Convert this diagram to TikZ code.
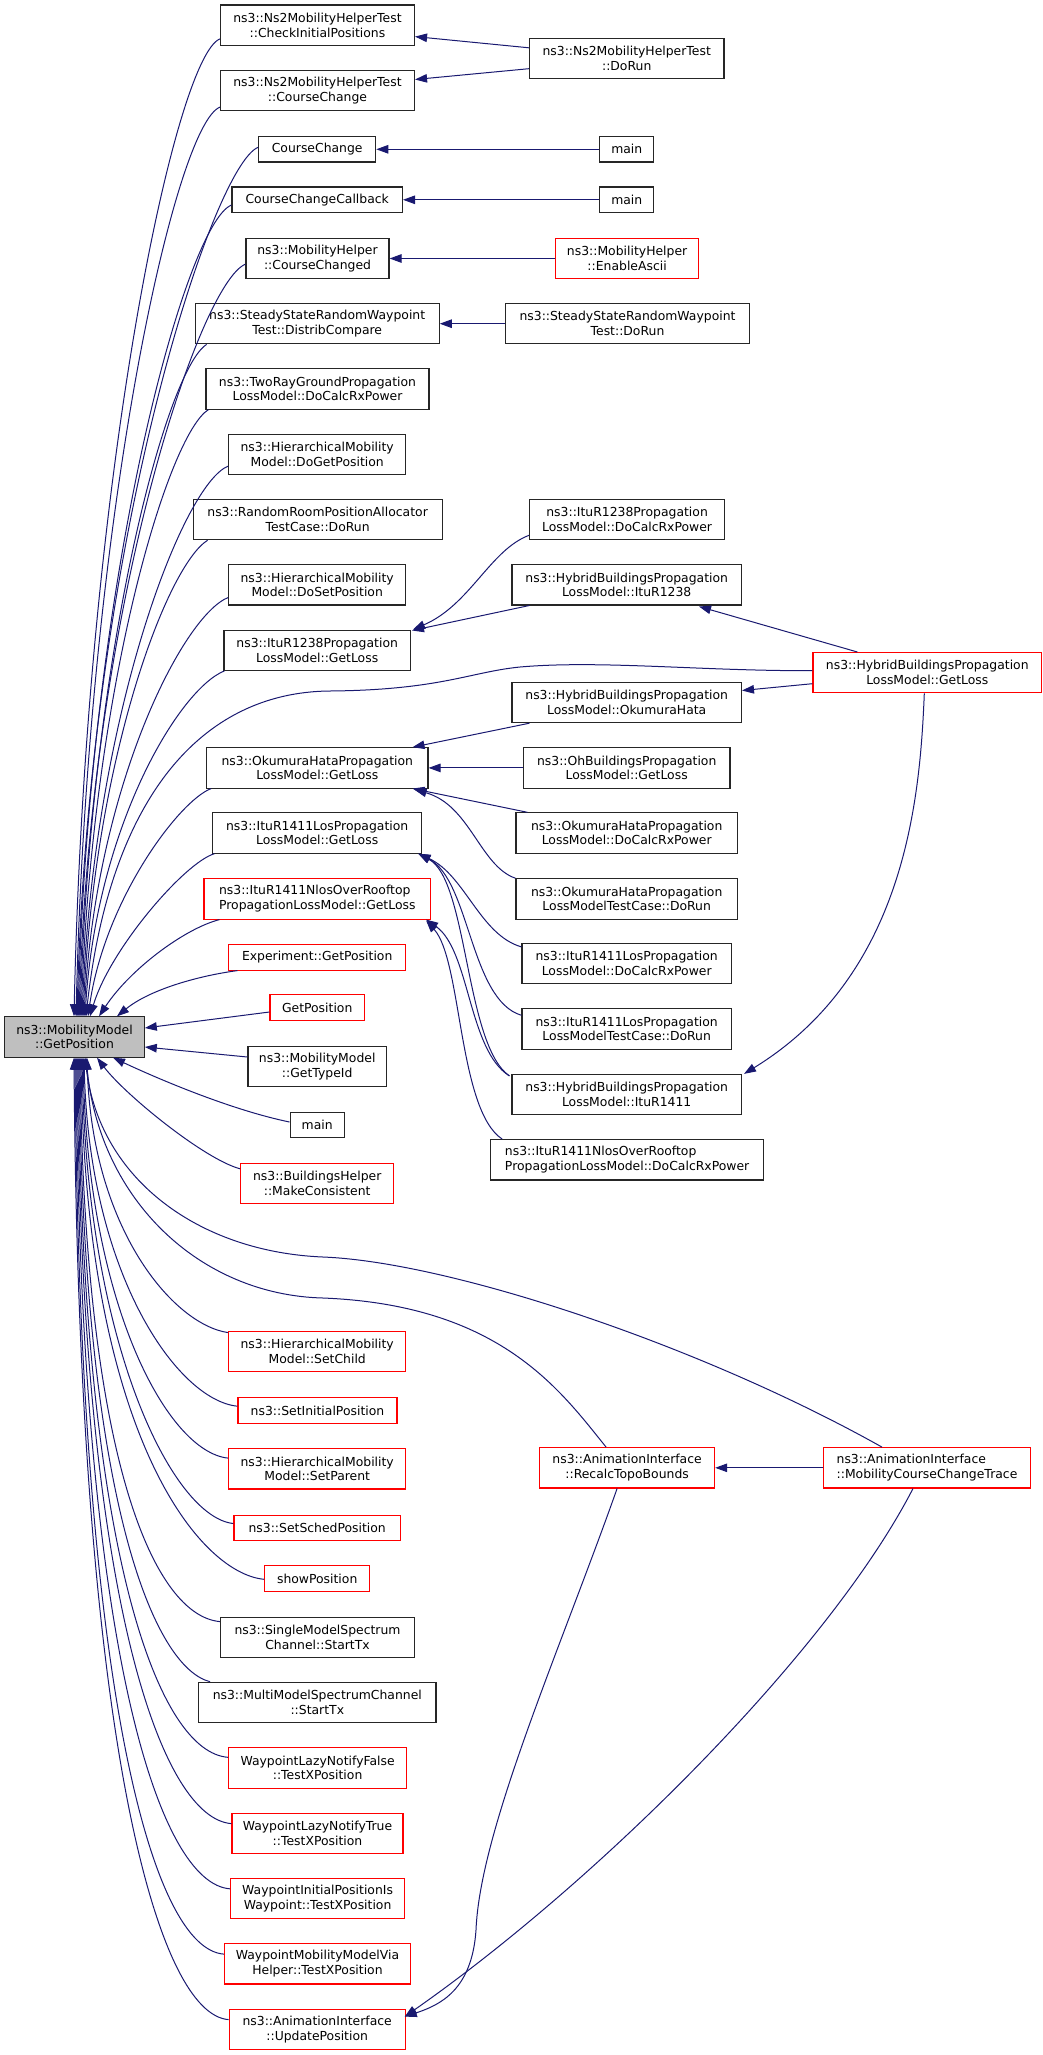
\documentclass[tikz,border=0pt]{standalone}
\usepackage{fontspec}
\setmainfont{DejaVu Sans}
\usetikzlibrary{arrows.meta,calc}
\definecolor{edgeblue}{HTML}{191970}
\definecolor{rootgray}{HTML}{BFBFBF}
\definecolor{boxred}{HTML}{FF0000}
\tikzset{
  box/.style={draw=black!85, line width=1.1pt, rectangle, inner sep=0pt, align=center,
    font=\fontsize{12.4}{14.7}\selectfont, text=black},
  rbox/.style={box, draw=boxred},
  two/.style={minimum height=40.3pt},
  one/.style={minimum height=25.5pt},
  edge/.style={draw=edgeblue, line width=1pt, -{Triangle[length=12pt,width=8.5pt]}},
}
\begin{document}
\begin{tikzpicture}[x=1pt,y=-1pt]
\useasboundingbox (0,0) rectangle (1043,2055);
% ---------- nodes ----------
\node[box,two,minimum width=194pt] (n1) at (317.5,25.2) {ns3::Ns2MobilityHelperTest\\::CheckInitialPositions};
\node[box,two,minimum width=194.5pt] (n2) at (626.7,58.5) {ns3::Ns2MobilityHelperTest\\::DoRun};
\node[box,two,minimum width=194pt] (n3) at (317.5,90.4) {ns3::Ns2MobilityHelperTest\\::CourseChange};
\node[box,one,minimum width=117pt] (n4) at (317.2,149.3) {CourseChange};
\node[box,one,minimum width=54pt] (n5) at (626.8,149.3) {main};
\node[box,one,minimum width=170.5pt] (n6) at (317.2,199.8) {CourseChangeCallback};
\node[box,one,minimum width=54pt] (n7) at (626.8,199.8) {main};
\node[box,two,minimum width=143pt] (n8) at (317.5,258.5) {ns3::MobilityHelper\\::CourseChanged};
\node[rbox,two,minimum width=143pt] (n9) at (627.1,258.5) {ns3::MobilityHelper\\::EnableAscii};
\node[box,two,minimum width=244pt] (n10) at (317.2,323.7) {ns3::SteadyStateRandomWaypoint\\Test::DistribCompare};
\node[box,two,minimum width=244pt] (n11) at (627.5,323.7) {ns3::SteadyStateRandomWaypoint\\Test::DoRun};
\node[box,two,minimum width=223pt] (n12) at (317.5,388.9) {ns3::TwoRayGroundPropagation\\LossModel::DoCalcRxPower};
\node[box,two,minimum width=177pt] (n13) at (317.2,454.4) {ns3::HierarchicalMobility\\Model::DoGetPosition};
\node[box,two,minimum width=249pt] (n14) at (317.6,519.6) {ns3::RandomRoomPositionAllocator\\TestCase::DoRun};
\node[box,two,minimum width=195pt] (n15) at (627.1,519.6) {ns3::ItuR1238Propagation\\LossModel::DoCalcRxPower};
\node[box,two,minimum width=177pt] (n16) at (317.2,584.8) {ns3::HierarchicalMobility\\Model::DoSetPosition};
\node[box,two,minimum width=229.5pt] (n17) at (626.7,584.8) {ns3::HybridBuildingsPropagation\\LossModel::ItuR1238};
\node[box,two,minimum width=186.5pt] (n18) at (317.2,650.2) {ns3::ItuR1238Propagation\\LossModel::GetLoss};
\node[rbox,two,minimum width=228.7pt] (n19) at (927.3,672.7) {ns3::HybridBuildingsPropagation\\LossModel::GetLoss};
\node[box,two,minimum width=229.5pt] (n20) at (626.7,702.5) {ns3::HybridBuildingsPropagation\\LossModel::OkumuraHata};
\node[box,two,minimum width=221.4pt] (n21) at (317.3,767.9) {ns3::OkumuraHataPropagation\\LossModel::GetLoss};
\node[box,two,minimum width=206.5pt] (n22) at (626.7,767.9) {ns3::OhBuildingsPropagation\\LossModel::GetLoss};
\node[box,two,minimum width=209.3pt] (n23) at (317.2,833) {ns3::ItuR1411LosPropagation\\LossModel::GetLoss};
\node[box,two,minimum width=221.5pt] (n24) at (626.7,833) {ns3::OkumuraHataPropagation\\LossModel::DoCalcRxPower};
\node[rbox,two,minimum width=226.6pt,align=left] (n25) at (317.3,898.9) {ns3::ItuR1411NlosOverRooftop\\PropagationLossModel::GetLoss};
\node[box,two,minimum width=221.5pt] (n26) at (626.7,898.9) {ns3::OkumuraHataPropagation\\LossModelTestCase::DoRun};
\node[rbox,one,minimum width=177pt] (n27) at (317.2,957.3) {Experiment::GetPosition};
\node[box,two,minimum width=209.4pt] (n28) at (626.7,963.6) {ns3::ItuR1411LosPropagation\\LossModel::DoCalcRxPower};
\node[rbox,one,minimum width=94.4pt] (n29) at (317.2,1007.5) {GetPosition};
\node[box,two,minimum width=139.5pt,fill=rootgray] (root) at (74.5,1037) {ns3::MobilityModel\\::GetPosition};
\node[box,two,minimum width=209.4pt] (n31) at (626.7,1029) {ns3::ItuR1411LosPropagation\\LossModelTestCase::DoRun};
\node[box,two,minimum width=138.5pt] (n32) at (317.2,1066.5) {ns3::MobilityModel\\::GetTypeId};
\node[box,two,minimum width=229.5pt] (n33) at (626.7,1094.6) {ns3::HybridBuildingsPropagation\\LossModel::ItuR1411};
\node[box,one,minimum width=54.3pt] (n34) at (317.2,1125) {main};
\node[box,two,minimum width=272.7pt,align=left] (n35) at (627.1,1159.8) {ns3::ItuR1411NlosOverRooftop\\PropagationLossModel::DoCalcRxPower};
\node[rbox,two,minimum width=153pt] (n36) at (317.2,1183.5) {ns3::BuildingsHelper\\::MakeConsistent};
\node[rbox,two,minimum width=177pt] (n37) at (317.2,1351.3) {ns3::HierarchicalMobility\\Model::SetChild};
\node[rbox,one,minimum width=159pt] (n38) at (317.5,1410.5) {ns3::SetInitialPosition};
\node[rbox,two,minimum width=177pt] (n39) at (317.2,1468.8) {ns3::HierarchicalMobility\\Model::SetParent};
\node[rbox,two,minimum width=175pt] (n40) at (627.1,1467.8) {ns3::AnimationInterface\\::RecalcTopoBounds};
\node[rbox,two,minimum width=206.6pt,align=left] (n41) at (927,1467.8) {ns3::AnimationInterface\\::MobilityCourseChangeTrace};
\node[rbox,one,minimum width=166.5pt] (n42) at (317.2,1527.8) {ns3::SetSchedPosition};
\node[rbox,one,minimum width=105pt] (n43) at (317.2,1578.6) {showPosition};
\node[box,two,minimum width=194pt] (n44) at (317.5,1637.3) {ns3::SingleModelSpectrum\\Channel::StartTx};
\node[box,two,minimum width=237.4pt] (n45) at (317.3,1702.4) {ns3::MultiModelSpectrumChannel\\::StartTx};
\node[rbox,two,minimum width=178pt] (n46) at (317.6,1768) {WaypointLazyNotifyFalse\\::TestXPosition};
\node[rbox,two,minimum width=171pt] (n47) at (317.5,1833.3) {WaypointLazyNotifyTrue\\::TestXPosition};
\node[rbox,two,minimum width=174pt] (n48) at (317.6,1898.5) {WaypointInitialPositionIs\\Waypoint::TestXPosition};
\node[rbox,two,minimum width=186pt] (n49) at (317.5,1963.8) {WaypointMobilityModelVia\\Helper::TestXPosition};
\node[rbox,two,minimum width=176pt] (n50) at (317.2,2029.3) {ns3::AnimationInterface\\::UpdatePosition};
% ---------- right column edges ----------
\draw[edge] ($(n2.west)+(0,-10.7)$) -- ($(n1.east)+(0,11.4)$);
\draw[edge] ($(n2.west)+(0,10.2)$) -- ($(n3.east)+(0,-10.9)$);
\draw[edge] (n5.west) -- (n4.east);
\draw[edge] (n7.west) -- (n6.east);
\draw[edge] (n9.west) -- (n8.east);
\draw[edge] (n11.west) -- (n10.east);
\draw[edge] ($(n15.south west)+(0,-5)$) .. controls (490,550) and (470,605) .. ($(n18.north east)+(2,0)$);
\draw[edge] ($(n17.south west)+(18,0)$) -- ($(n18.north east)+(1,1)$);
\draw[edge] ($(n19.north west)+(45,0)$) -- ($(n17.south east)+(-43,1)$);
\draw[edge] ($(n19.west)+(0,11)$) -- ($(n20.east)+(0,-12)$);
\draw[edge] ($(n19.south)+(-3,0)$) .. controls (920,800) and (905,975) .. ($(n33.north east)+(2,0)$);
\draw[edge] ($(n20.south west)+(18,0)$) -- ($(n21.north east)+(-16,0)$);
\draw[edge] (n22.west) -- (n21.east);
\draw[edge] ($(n24.north west)+(12,0)$) -- ($(n21.south east)+(-16,0)$);
\draw[edge] (n26.north west) .. controls (480,866) and (470,805) .. ($(n21.south east)+(-14,1)$);
\draw[edge] ($(n28.north west)+(0,4)$) .. controls (480,935) and (465,875) .. ($(n23.south east)+(-4,0)$);
\draw[edge] ($(n31.north west)+(0,7)$) .. controls (470,1000) and (470,880) .. ($(n23.south east)+(-4,0)$);
\draw[edge] ($(n33.north west)+(-2,2)$) .. controls (465,1045) and (468,880) .. ($(n23.south east)+(-4,0)$);
\draw[edge] ($(n33.north west)+(-2,2)$) .. controls (468,1050) and (470,950) .. ($(n25.south east)+(-5,0)$);
\draw[edge] ($(n35.north west)+(12,0)$) .. controls (458,1110) and (462,960) .. ($(n25.south east)+(-5,1)$);
\draw[edge] (n41.west) -- (n40.east);
\draw[edge] ($(n40.south)+(-10,0)$) .. controls (560,1650) and (480,1830) .. (476,1930) .. controls (472,1990) and (440,2005) .. ($(n50.north east)+(-1,8)$);
\draw[edge] ($(n41.south)+(-14,0)$) .. controls (830,1650) and (600,1880) .. ($(n50.north east)+(-1,8)$);
% ---------- edges to root from above ----------
\draw[edge] ($(n1.south west)+(0,-7)$) .. controls +(-45,18) and +(12,-538.5) .. ($(root.north)+(-0.5,0)$);
\draw[edge] ($(n3.south west)+(0,-4)$) .. controls +(-45,18) and +(12,-501) .. ($(root.north)+(1.5,0)$);
\draw[edge] ($(n4.west)+(0,-2)$) .. controls +(-45,18) and +(12,-478) .. ($(root.north)+(2.5,0)$);
\draw[edge] ($(n6.south west)+(0,-8)$) .. controls +(-45,18) and +(12,-447) .. ($(root.north)+(3.5,0)$);
\draw[edge] ($(n8.south west)+(0,-15)$) .. controls +(-45,18) and +(12,-414) .. ($(root.north)+(4.5,0)$);
\draw[edge] ($(n10.south west)+(12,0)$) .. controls +(-40,25) and +(12,-370) .. ($(root.north)+(5.5,0)$);
\draw[edge] ($(n12.south west)+(3,0)$) .. controls +(-40,25) and +(12,-334) .. ($(root.north)+(6.5,0)$);
\draw[edge] ($(n13.south west)+(0,-9)$) .. controls +(-45,18) and +(12,-303) .. ($(root.north)+(7.5,0)$);
\draw[edge] ($(n14.south west)+(15,0)$) .. controls +(-40,25) and +(12,-262) .. ($(root.north)+(8.5,0)$);
\draw[edge] ($(n16.south west)+(0,-8)$) .. controls +(-45,18) and +(12,-231) .. ($(root.north)+(9.5,0)$);
\draw[edge] ($(n18.south west)+(1,0)$) .. controls +(-45,18) and +(12,-191) .. ($(root.north)+(10.5,0)$);
\draw[edge] ($(n19.west)+(0,-2)$) .. controls (700,671) and (600,660) .. (520,667) .. controls (470,672) and (440,690) .. (330,691) .. controls (200,692) and (110,800) .. ($(root.north)+(11.5,0)$);
\draw[edge] ($(n21.south west)+(5,0)$) .. controls +(-31.7,12) and +(17,-117) .. ($(root.north)+(13.5,0)$);
\draw[edge] ($(n23.south west)+(2.4,0)$) .. controls +(-30,9) and +(20,-67) .. ($(root.north)+(15.5,0)$);
\draw[edge] ($(n25.south west)+(16,0)$) .. controls +(-35,9) and +(31,-47) .. ($(root.north)+(24.5,0)$);
\draw[edge] ($(n27.south west)+(9.3,0)$) .. controls +(-38,5) and +(33,-27) .. ($(root.north)+(42.5,0)$);
% ---------- edges to root from the right ----------
\draw[edge] ($(n29.west)+(0,4.5)$) -- ($(root.east)+(0,-9)$);
\draw[edge] ($(n32.west)+(0,-9.5)$) -- ($(root.east)+(0,10)$);
% ---------- edges to root from below ----------
\draw[edge] ($(n34.west)+(0,-3)$) .. controls +(-58,-12) and +(47,22) .. ($(root.south)+(38.5,0)$);
\draw[edge] ($(n36.north west)+(0,6)$) .. controls +(-35.7,-9.4) and +(28,37) .. ($(root.south)+(22.5,0)$);
\draw[edge] ($(n37.north west)+(0,2)$) .. controls +(-55,-8) and +(5,171) .. ($(root.south)+(12.5,0)$);
\draw[edge] ($(n38.north west)+(0,9)$) .. controls +(-60,-6) and +(5,217) .. ($(root.south)+(9.5,0)$);
\draw[edge] ($(n39.north west)+(0,10)$) .. controls +(-60,-6) and +(5,249) .. ($(root.south)+(8.5,0)$);
\draw[edge] ($(n42.north west)+(0,9)$) .. controls +(-60,-6) and +(5,290) .. ($(root.south)+(7.5,0)$);
\draw[edge] ($(n43.north west)+(0,14)$) .. controls +(-65,-6) and +(5,377) .. ($(root.south)+(6.5,0)$);
\draw[edge] ($(n44.north west)+(0,5)$) .. controls +(-65,-6) and +(5,407) .. ($(root.south)+(5.5,0)$);
\draw[edge] ($(n45.north west)+(12,0)$) .. controls +(-55,-14) and +(5,450) .. ($(root.south)+(4.5,0)$);
\draw[edge] ($(n46.north west)+(0,10)$) .. controls +(-68,-5) and +(5,505) .. ($(root.south)+(3.5,0)$);
\draw[edge] ($(n47.north west)+(0,11)$) .. controls +(-68,-5) and +(5,552) .. ($(root.south)+(2.5,0)$);
\draw[edge] ($(n48.north west)+(0,11)$) .. controls +(-70,-5) and +(5,599) .. ($(root.south)+(1.5,0)$);
\draw[edge] ($(n49.north west)+(0,11)$) .. controls +(-70,-5) and +(5,646) .. ($(root.south)+(0.5,0)$);
\draw[edge] ($(n50.north west)+(0,11)$) .. controls +(-70,-5) and +(5,693) .. ($(root.south)+(-0.5,0)$);
\draw[edge] ($(n40.north)+(-21,0)$) .. controls (560,1390) and (500,1305) .. (323,1298) .. controls (200,1295) and (100,1200) .. ($(root.south)+(11.5,0)$);
\draw[edge] ($(n41.north)+(-45,0)$) .. controls (700,1345) and (450,1262) .. (323,1257) .. controls (200,1252) and (100,1180) .. ($(root.south)+(10.5,0)$);
\end{tikzpicture}
\end{document}
